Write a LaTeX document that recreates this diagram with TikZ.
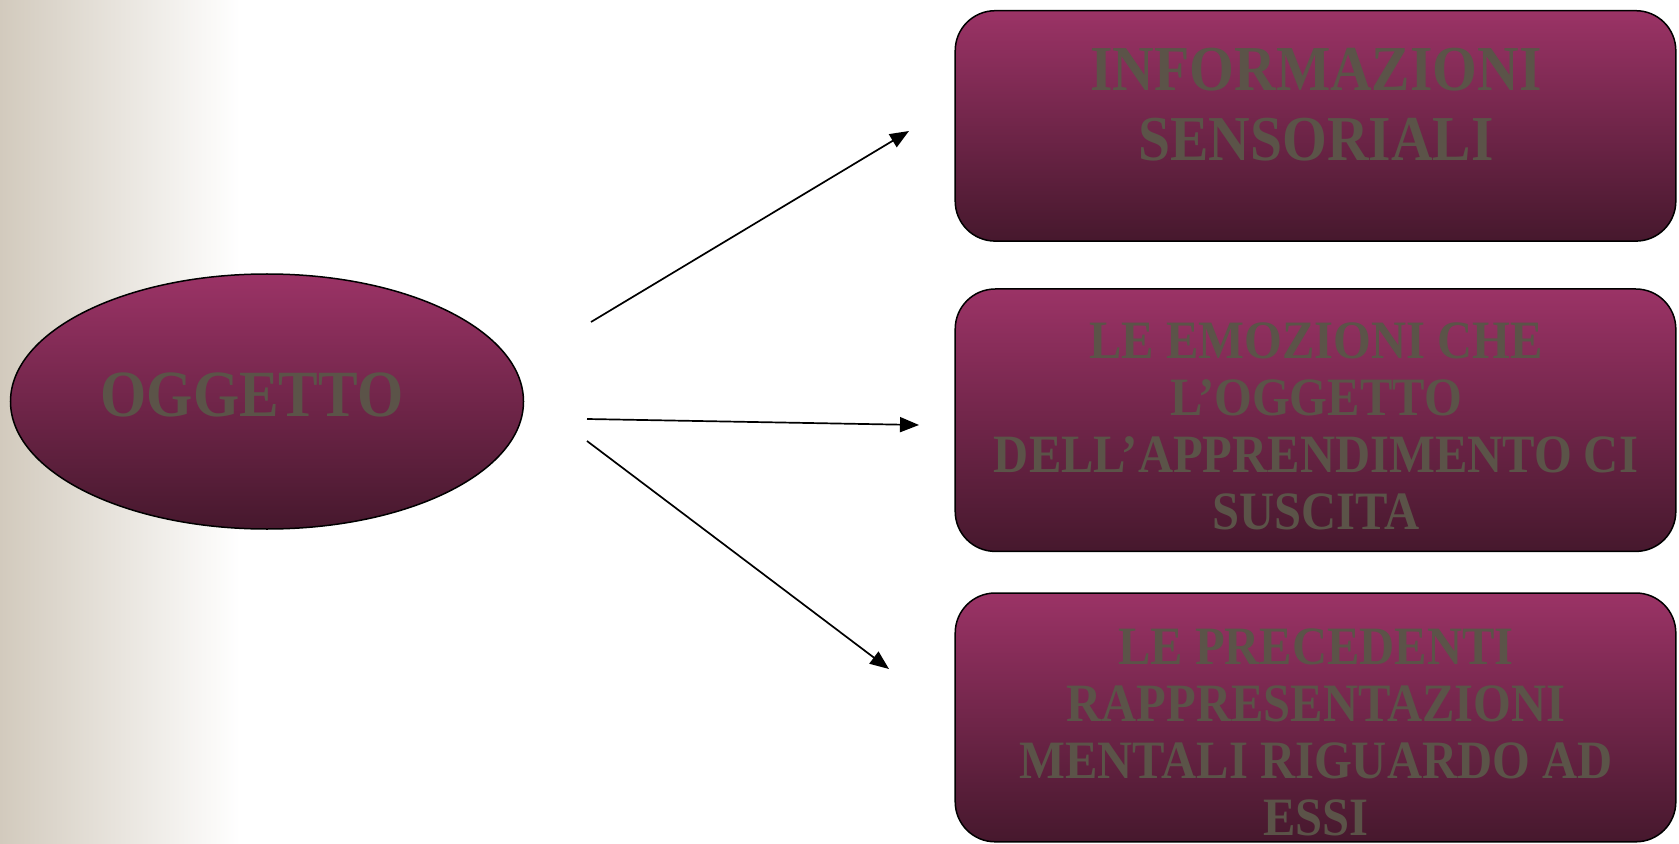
\documentclass[tikz,border=0pt]{standalone}
\usepackage{fontspec}
\setmainfont{Liberation Serif}[FakeStretch=0.9]
\usetikzlibrary{shapes.geometric,arrows.meta}
\definecolor{plumtop}{RGB}{155,51,102}
\definecolor{plumbot}{RGB}{70,24,45}
\definecolor{txtgray}{RGB}{91,83,72}
\definecolor{sandL}{RGB}{210,202,189}
\begin{document}
\begin{tikzpicture}[x=0.5pt,y=-0.5pt,
 plumfill/.style={draw=black,line width=0.75pt,top color=plumtop,bottom color=plumbot},
 boxnode/.style={plumfill,rectangle,rounded corners=20pt,minimum width=360.3pt,inner sep=0pt},
 ovalnode/.style={plumfill,ellipse,minimum width=256.5pt,minimum height=127.5pt,inner sep=0pt},
 lbl/.style={text=txtgray,align=center,inner sep=0pt},
 bigtxt/.style={font=\bfseries\fontsize{32}{35}\selectfont},
 ovaltxt/.style={font=\bfseries\fontsize{33}{36}\selectfont},
 smalltxt/.style={font=\bfseries\fontsize{27}{28.5}\selectfont},
 arr/.style={line width=0.85pt,-{Triangle[length=9.5pt,width=7.5pt]}}]
\useasboundingbox (0,0) rectangle (1679,844);
\fill[white] (0,0) rectangle (1679,844);
\fill[left color=sandL,right color=white] (0,0) rectangle (240,844);
% shapes
\node[ovalnode] (obj) at (267,401.5) {};
\node[boxnode,minimum height=115.2pt] (b1) at (1315.5,125.9) {};
\node[boxnode,minimum height=131.2pt] (b2) at (1315.5,420.2) {};
\node[boxnode,minimum height=124.4pt] (b3) at (1315.5,717.4) {};
% texts
\node[lbl,ovaltxt] (t0) at (252,395) {OGGETTO};
\node[lbl,bigtxt] (t1) at (1316,105) {INFORMAZIONI\\SENSORIALI};
\node[lbl,smalltxt] (t2) at (1316,426) {LE EMOZIONI CHE\\L’OGGETTO\\DELL’APPRENDIMENTO CI\\SUSCITA};
\node[lbl,smalltxt] (t3) at (1316,732) {LE PRECEDENTI\\RAPPRESENTAZIONI\\MENTALI RIGUARDO AD\\ESSI};
% arrows
\coordinate (a1s) at (591,322);
\coordinate (a1e) at (909,131);
\coordinate (a2s) at (587,419);
\coordinate (a2e) at (919,425);
\coordinate (a3s) at (587,441);
\coordinate (a3e) at (889,669);
\draw[arr] (a1s) -- (a1e);
\draw[arr] (a2s) -- (a2e);
\draw[arr] (a3s) -- (a3e);
\end{tikzpicture}
\end{document}
